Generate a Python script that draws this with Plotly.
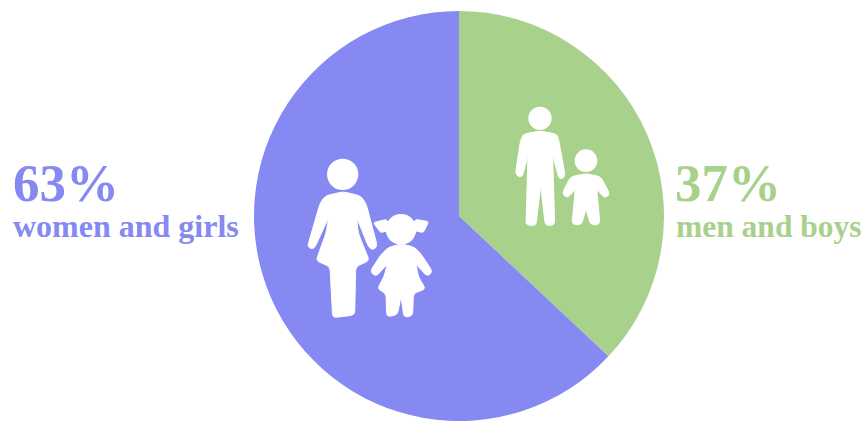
import math
import plotly.graph_objects as go

categories = ["men and boys", "women and girls"]
values = [37, 63]
colors = ["#A8D18B", "#8589F1"]
W, H = 863, 421


def to_paper(x, y, ox, oy):
    px = ox + x / 3
    py = oy + y / 3
    return px / W, 1 - py / H


def path(points, ox, oy, d=12):
    """Icon outline from zoom-crop points (3x), with rounded corners, to paper coordinates."""
    n = len(points)
    parts = []
    for i in range(n):
        p, v, q = points[i - 1], points[i], points[(i + 1) % n]
        def toward(a, b):
            L = math.hypot(b[0] - a[0], b[1] - a[1]) or 1
            t = min(d, L / 2) / L
            return a[0] + (b[0] - a[0]) * t, a[1] + (b[1] - a[1]) * t
        s = toward(v, p)
        e = toward(v, q)
        sx, sy = to_paper(*s, ox, oy)
        vx, vy = to_paper(*v, ox, oy)
        ex, ey = to_paper(*e, ox, oy)
        parts.append(f"{'M' if i == 0 else 'L'}{sx:.5f},{sy:.5f} Q{vx:.5f},{vy:.5f} {ex:.5f},{ey:.5f}")
    return " ".join(parts) + " Z"


def blob(points, ox, oy, d=12):
    return dict(type="path", xref="paper", yref="paper", path=path(points, ox, oy, d),
                fillcolor="white", line=dict(color="white", width=1), layer="above")


def head(cx, cy, r, ox, oy):
    x0, y1 = to_paper(cx - r, cy - r, ox, oy)
    x1, y0 = to_paper(cx + r, cy + r, ox, oy)
    return dict(type="circle", xref="paper", yref="paper", x0=x0, x1=x1, y0=y0, y1=y1,
                fillcolor="white", line=dict(width=0), layer="above")


woman = [(105, 168), (160, 155), (212, 168), (228, 190), (262, 318), (250, 330), (236, 322),
         (200, 232), (205, 280), (238, 362), (197, 380), (194, 525), (128, 533),
         (120, 380), (78, 362), (108, 280), (116, 232), (72, 328), (52, 322), (90, 190)]
girl_body = [(295, 322), (335, 312), (375, 322), (395, 345), (428, 395), (412, 410), (378, 372),
             (385, 410), (407, 447), (370, 460), (368, 528), (342, 532), (333, 470), (322, 525),
             (290, 530), (288, 460), (262, 447), (282, 410), (292, 372), (258, 410),
             (240, 395), (272, 345)]
girl_tail_l = [(290, 238), (250, 248), (272, 278), (300, 270)]
girl_tail_r = [(376, 238), (416, 245), (400, 278), (366, 270)]
man = [(68, 118), (120, 108), (172, 118), (178, 145), (196, 245), (178, 254), (158, 180),
       (164, 390), (136, 392), (122, 270), (108, 392), (78, 390),
       (84, 180), (66, 248), (46, 240), (60, 145)]
boy = [(212, 245), (258, 236), (302, 245), (330, 298), (314, 310), (290, 282), (300, 388),
       (272, 390), (258, 342), (244, 390), (216, 388), (226, 282), (202, 310), (186, 296)]

O1 = (290, 140)
O2 = (500, 95)
shapes = [
    head(158, 103, 47, *O1), blob(woman, *O1),
    head(333, 268, 46, *O1), blob(girl_tail_l, *O1, d=6), blob(girl_tail_r, *O1, d=6), blob(girl_body, *O1),
    head(120, 70, 35, *O2), blob(man, *O2),
    head(258, 197, 34, *O2), blob(boy, *O2),
]

fig = go.Figure(go.Pie(
    labels=categories, values=values, sort=False, direction="clockwise", rotation=0,
    marker=dict(colors=colors, line=dict(width=0)), textinfo="none", hoverinfo="label+percent",
    showlegend=False, domain=dict(x=[254 / W, 664 / W], y=[0, 410 / H]),
))


def label(px, py, text, size, color):
    return dict(x=px / W, y=1 - py / H, xref="paper", yref="paper", text=text, showarrow=False,
                xanchor="left", yanchor="middle",
                font=dict(family="Liberation Serif", size=size, color=color))


fig.update_layout(
    width=W, height=H, margin=dict(l=0, r=0, t=0, b=0), paper_bgcolor="white",
    shapes=shapes,
    annotations=[
        label(11, 183, "<b>63%</b>", 53, colors[1]),
        label(11, 226, "<b>women and girls</b>", 32, colors[1]),
        label(673, 183, "<b>37%</b>", 53, colors[0]),
        label(674, 226, "<b>men and boys</b>", 31.5, colors[0]),
    ],
)
fig.write_html("out.html", config=dict(displayModeBar=False),
               post_script="document.body.style.margin='0';document.body.style.overflow='hidden';")
